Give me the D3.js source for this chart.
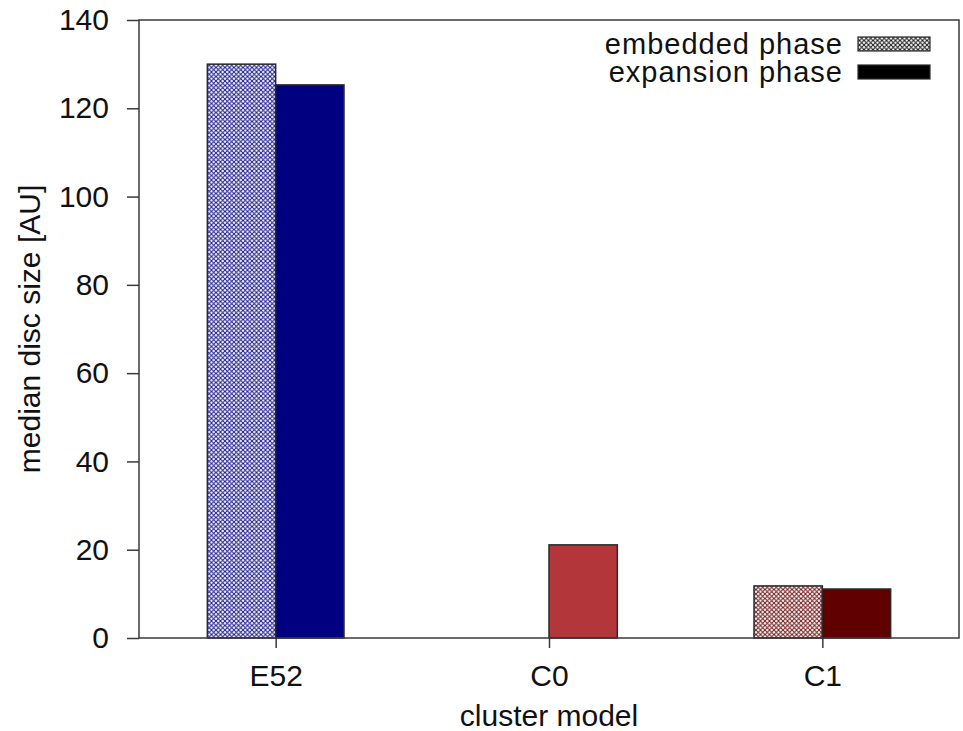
<!DOCTYPE html>
<html>
<head>
<meta charset="utf-8">
<script src="https://cdn.jsdelivr.net/npm/d3@7"></script>
<style>
  body { margin: 0; background: #fff; }
  svg { display: block; }
  text { font-family: "Liberation Sans", Arial, sans-serif; fill: #111; }
</style>
</head>
<body>
<svg id="chart" width="963" height="731"></svg>
<script>
// ---- data ----
const categories = ["E52", "C0", "C1"];
const embeddedValues = [130.0, null, 11.8];
const expansionValues = [125.3, 21.1, 11.1];
const seriesNames = ["embedded phase", "expansion phase"];
const yTicks = [0, 20, 40, 60, 80, 100, 120, 140];
const expansionColors = ["#000080", "#b2363a", "#600000"];
const xTitle = "cluster model";
const yTitle = "median disc size [AU]";

// ---- layout ----
const svg = d3.select("#chart");
const margin = { left: 139, right: 963 - 959, top: 20, bottom: 731 - 638 };
const W = 963, H = 731;
const x0 = margin.left, x1 = W - margin.right;
const yTop = margin.top, yBot = H - margin.bottom;
const fontSize = 30;
const axisColor = "#3a3a3a";

const x = d3.scaleLinear().domain([-0.5, categories.length - 0.5]).range([x0, x1]);
const y = d3.scaleLinear().domain([0, 140]).range([yBot, yTop]);
const barW = (x(1) - x(0)) * 0.25;

// patterns
const defs = svg.append("defs");
function hatch(id, color) {
  const s = 4.5;
  const p = defs.append("pattern").attr("id", id)
    .attr("patternUnits", "userSpaceOnUse").attr("width", s).attr("height", s);
  p.append("rect").attr("width", s).attr("height", s).attr("fill", "#fff");
  p.append("path").attr("d", `M-1,-1 L${s+1},${s+1} M-1,${s+1} L${s+1},-1`)
    .attr("stroke", color).attr("stroke-width", 1.0).attr("fill", "none").attr("opacity", 0.9);
}
categories.forEach((c, i) => hatch("hatch" + i, expansionColors[i]));
hatch("hatchLegend", "#000");

const g = svg.append("g");

// bars
const bars = categories.map((c, i) => ({ c, i, emb: embeddedValues[i], exp: expansionValues[i] }));
g.selectAll("rect.emb").data(bars.filter(d => d.emb != null)).join("rect")
  .attr("class", "emb")
  .attr("x", d => x(d.i) - barW).attr("width", barW)
  .attr("y", d => y(d.emb)).attr("height", d => y(0) - y(d.emb))
  .attr("fill", d => "url(#hatch" + d.i + ")")
  .attr("stroke", "#2a2a2a").attr("stroke-width", 1.5);
g.selectAll("rect.exp").data(bars.filter(d => d.exp != null)).join("rect")
  .attr("class", "exp")
  .attr("x", d => x(d.i)).attr("width", barW)
  .attr("y", d => y(d.exp)).attr("height", d => y(0) - y(d.exp))
  .attr("fill", d => expansionColors[d.i])
  .attr("stroke", "#2a2a2a").attr("stroke-width", 1.5);

// frame
g.append("rect").attr("x", x0).attr("y", yTop).attr("width", x1 - x0).attr("height", yBot - yTop)
  .attr("fill", "none").attr("stroke", axisColor).attr("stroke-width", 1.5);

// y axis
const yAxis = d3.axisLeft(y).tickValues(yTicks).tickSize(12).tickPadding(18);
const ya = svg.append("g").attr("transform", `translate(${x0},0)`).call(yAxis);
ya.select(".domain").remove();
ya.selectAll(".tick line").attr("stroke", axisColor).attr("stroke-width", 1.5);
ya.selectAll(".tick text").attr("font-size", fontSize).attr("font-family", "Liberation Sans, Arial, sans-serif").attr("fill", "#111");

// x axis
const xAxis = d3.axisBottom(x).tickValues(categories.map((c, i) => i)).tickFormat(i => categories[i]).tickSize(10).tickPadding(17);
const xa = svg.append("g").attr("transform", `translate(0,${yBot})`).call(xAxis);
xa.select(".domain").remove();
xa.selectAll(".tick line").attr("stroke", axisColor).attr("stroke-width", 1.5);
xa.selectAll(".tick text").attr("font-size", fontSize).attr("font-family", "Liberation Sans, Arial, sans-serif").attr("fill", "#111");

// titles
svg.append("text").attr("x", (x0 + x1) / 2).attr("y", 726).attr("text-anchor", "middle")
  .attr("font-size", fontSize).text(xTitle);
svg.append("text").attr("transform", `translate(40,${(yTop + yBot) / 2}) rotate(-90)`)
  .attr("text-anchor", "middle").attr("font-size", fontSize).text(yTitle);

// legend
const legend = svg.append("g");
const legFills = ["url(#hatchLegend)", "#000"];
seriesNames.forEach((name, k) => {
  const cy = 44 + k * 28;
  legend.append("rect").attr("x", 858).attr("y", cy - 7).attr("width", 72).attr("height", 14)
    .attr("fill", legFills[k]).attr("stroke", "#2a2a2a").attr("stroke-width", 1.2);
  legend.append("text").attr("x", 843).attr("y", cy + 10).attr("text-anchor", "end")
    .attr("letter-spacing", 1).attr("font-size", fontSize - 1).text(name);
});
</script>
</body>
</html>
